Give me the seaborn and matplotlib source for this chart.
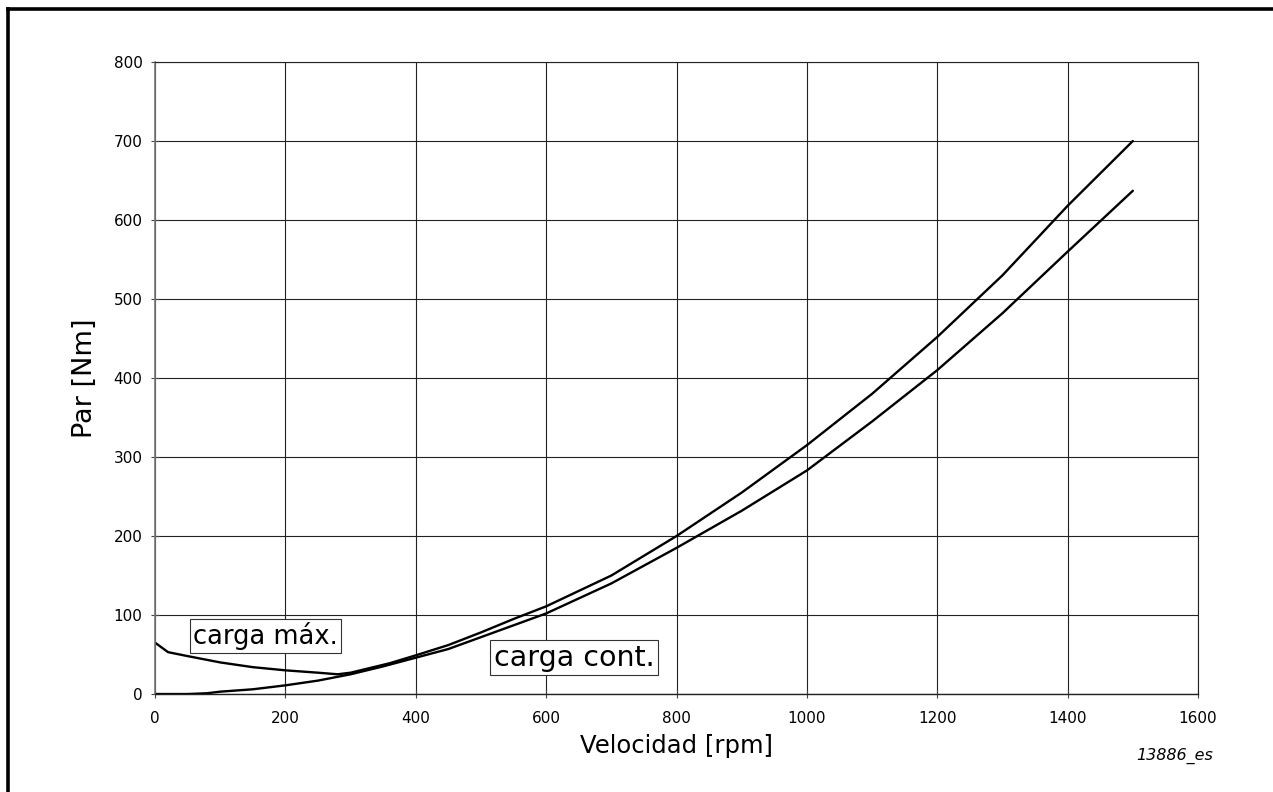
import matplotlib
matplotlib.use("Agg")
import matplotlib.pyplot as plt
import seaborn as sns
import pandas as pd
from matplotlib.lines import Line2D

# Torque curves: maximum load and continuous load
speed_max = [0, 20, 50, 100, 150, 200, 250, 280, 300, 320, 340, 360, 400, 450, 500, 550,
             600, 700, 800, 900, 1000, 1100, 1200, 1300, 1400, 1500]
torque_max = [65, 53, 48, 40, 34, 30, 27, 25, 27, 31, 35, 39, 49, 62, 78, 95,
              111, 150, 200, 255, 315, 380, 452, 530, 618, 700]

speed_cont = [0, 50, 80, 100, 150, 170, 200, 250, 300, 350, 400, 450, 500, 550,
              600, 700, 800, 900, 1000, 1100, 1200, 1300, 1400, 1500]
torque_cont = [0, 0, 1, 3, 6, 8, 11, 17, 25, 35, 46, 57, 72, 87,
               102, 140, 185, 232, 283, 345, 410, 482, 560, 637]

x_ticks = [0, 200, 400, 600, 800, 1000, 1200, 1400, 1600]
y_ticks = [0, 100, 200, 300, 400, 500, 600, 700, 800]

sns.set_theme(style="white")
plt.rcParams["font.family"] = ["DejaVu Sans"]
plt.rcParams["text.color"] = "black"
plt.rcParams["axes.labelcolor"] = "black"

fig = plt.figure(figsize=(12.73, 7.92), dpi=100)
ax = fig.add_axes([0.1218, 0.1237, 0.8193, 0.798])

df_max = pd.DataFrame({"speed": speed_max, "torque": torque_max})
df_cont = pd.DataFrame({"speed": speed_cont, "torque": torque_cont})
sns.lineplot(data=df_max, x="speed", y="torque", ax=ax, color="black", lw=1.7)
sns.lineplot(data=df_cont, x="speed", y="torque", ax=ax, color="black", lw=1.7)

ax.set_xlim(0, 1600)
ax.set_ylim(0, 800)
ax.set_xticks(x_ticks)
ax.set_yticks(y_ticks)
ax.grid(True, color="#222222", lw=0.8)
for side in ["top", "right"]:
    ax.spines[side].set_color("#222222")
    ax.spines[side].set_linewidth(0.8)
ax.spines["left"].set_color("#777777")
ax.spines["left"].set_linewidth(1.2)
ax.spines["bottom"].set_color("#222222")
ax.spines["bottom"].set_linewidth(1.0)
ax.tick_params(axis="both", which="major", direction="inout", length=6, width=0.8,
               color="#444444", labelsize=11, labelcolor="black",
               bottom=True, left=True, pad=6)
ax.tick_params(axis="x", pad=9)

ax.set_xlabel("Velocidad [rpm]", fontsize=17.5, labelpad=6)
ax.set_ylabel("Par [Nm]", fontsize=19.5, labelpad=11)

box = dict(boxstyle="square,pad=0.12", fc="white", ec="#333333", lw=0.8)
ax.text(169, 73, "carga máx.", fontsize=18.5, ha="center", va="center", bbox=box)
ax.text(643, 46, "carga cont.", fontsize=20.5, ha="center", va="center", bbox=box)

fig.text(0.953, 0.045, "13886_es", fontsize=11.5, style="italic", ha="right", va="center")

# Frame lines along the left and top edges of the figure
fig.add_artist(Line2D([0.0063, 0.0063], [0.0, 0.989], transform=fig.transFigure,
                      color="black", lw=2.6, solid_capstyle="projecting"))
fig.add_artist(Line2D([0.0063, 1.0], [0.989, 0.989], transform=fig.transFigure,
                      color="black", lw=2.6, solid_capstyle="projecting"))

fig.savefig("out.png", dpi=100)
